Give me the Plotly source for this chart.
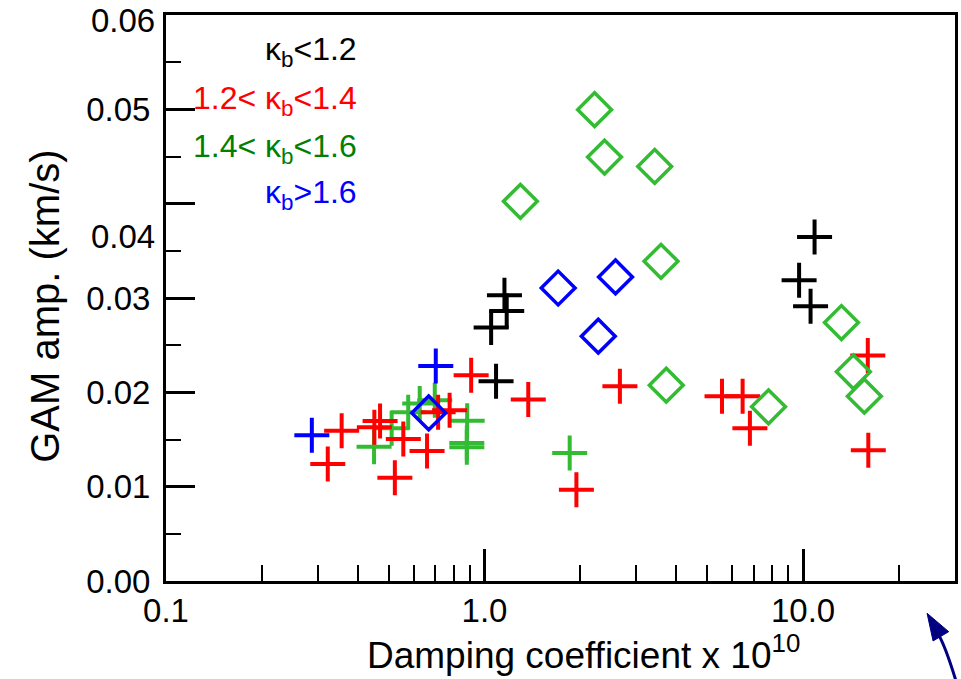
import numpy as np
import plotly.graph_objects as go

# Damping coefficient (x 1e10) and GAM amplitude (km/s), grouped by kappa_b
black_cross_x = [1.049, 1.155, 1.174, 1.087, 10.87, 9.72, 10.56]
black_cross_y = [0.02687, 0.03029, 0.02863, 0.02118, 0.03647, 0.03188, 0.02912]

red_cross_x = [0.322, 0.356, 0.470, 0.451, 0.523, 0.556, 0.660, 0.777, 0.715,
               0.908, 1.372, 1.943, 2.661, 5.567, 6.461, 6.811, 15.97, 16.03]
red_cross_y = [0.01239, 0.01592, 0.01695, 0.01631, 0.01094, 0.01504, 0.01377, 0.01811, 0.01790,
               0.02182, 0.01924, 0.00967, 0.02065, 0.01959, 0.01959, 0.01620, 0.02390, 0.01387]

green_cross_x = [0.450, 0.511, 0.576, 0.626, 0.698, 0.882, 0.880, 0.880, 1.851]
green_cross_y = [0.01422, 0.01620, 0.01790, 0.01882, 0.01917, 0.01698, 0.01462, 0.01419, 0.01356]

green_diamond_x = [2.216, 2.381, 3.422, 1.296, 3.582, 3.721, 7.792, 13.2, 14.39, 15.58]
green_diamond_y = [0.04996, 0.04494, 0.04395, 0.04025, 0.03389, 0.02076, 0.01846, 0.02740, 0.02217, 0.01959]

blue_cross_x = [0.287, 0.703]
blue_cross_y = [0.01546, 0.02280]

blue_diamond_x = [0.668, 1.703, 2.578, 2.276]
blue_diamond_y = [0.01782, 0.03106, 0.03223, 0.02595]

x_major = [0.1, 1, 10]
x_major_text = ["0.1", "1.0", "10.0"]
x_minor = [0.2, 0.3, 0.4, 0.5, 0.6, 0.7, 0.8, 0.9, 2, 3, 4, 5, 6, 7, 8, 9, 20]
y_major = [0.0, 0.01, 0.02, 0.03, 0.04, 0.05, 0.06]
y_major_text = ["0.00", "0.01", "0.02", "0.03", "", "0.05", ""]
y_minor = [0.005, 0.015, 0.025, 0.035, 0.045, 0.055]

legend_labels = ["κ<sub>b</sub>&lt;1.2", "1.2&lt; κ<sub>b</sub>&lt;1.4",
                 "1.4&lt; κ<sub>b</sub>&lt;1.6", "κ<sub>b</sub>&gt;1.6"]

BLACK = "#000000"
RED = "#ff0000"
GREEN = "#33bb33"
GREEN_TEXT = "#008000"
BLUE = "#0000ff"
NAVY = "#000080"
FONT = "Liberation Sans, Arial, sans-serif"
TICK_SIZE = 33

fig = go.Figure()


def add_points(xs, ys, color, symbol, size, width):
    fig.add_trace(go.Scatter(
        x=xs, y=ys, mode="markers", showlegend=False, hoverinfo="x+y",
        marker=dict(symbol=symbol, size=size, color=color,
                    line=dict(color=color, width=width)),
    ))


add_points(green_cross_x, green_cross_y, GREEN, "cross-thin-open", 25, 4)
add_points(red_cross_x, red_cross_y, RED, "cross-thin-open", 25, 4)
add_points(black_cross_x, black_cross_y, BLACK, "cross-thin-open", 25, 4)
add_points(blue_cross_x, blue_cross_y, BLUE, "cross-thin-open", 25, 4)
add_points(green_diamond_x, green_diamond_y, GREEN, "diamond-open", 26, 3.5)
add_points(blue_diamond_x, blue_diamond_y, BLUE, "diamond-open", 26, 3.5)

fig.update_layout(
    width=961, height=679,
    margin=dict(l=166, r=3, t=15, b=98),
    paper_bgcolor="white", plot_bgcolor="white",
    font=dict(family=FONT, color="black", size=30),
)

fig.update_xaxes(
    type="log", range=[np.log10(0.1), np.log10(30)],
    showline=True, linewidth=3, linecolor="black", mirror=True,
    showgrid=False, zeroline=False,
    ticks="inside", ticklen=32, tickwidth=2.5, tickcolor="black",
    tickvals=x_major, ticktext=x_major_text, ticklabelstandoff=-2,
    tickfont=dict(size=TICK_SIZE),
    minor=dict(ticks="inside", ticklen=16, tickwidth=2, tickcolor="black",
               tickvals=x_minor, showgrid=False),
)
fig.update_yaxes(
    range=[0, 0.06],
    showline=True, linewidth=3, linecolor="black", mirror=True,
    showgrid=False, zeroline=False,
    ticks="inside", ticklen=29, tickwidth=2.5, tickcolor="black",
    tickvals=y_major, ticktext=y_major_text, ticklabelstandoff=6,
    tickfont=dict(size=TICK_SIZE),
    minor=dict(ticks="inside", ticklen=15, tickwidth=2, tickcolor="black",
               tickvals=y_minor, showgrid=False),
)

annotations = [
    # 0.04 label sits below its tick on this axis
    dict(text="0.04", x=0, xref="paper", y=0.0365, yref="y",
         xanchor="right", yanchor="middle", xshift=-9, showarrow=False,
         font=dict(size=TICK_SIZE)),
    dict(text="0.06", x=0, xref="paper", y=0.06, yref="y",
         xanchor="right", yanchor="middle", xshift=-9, yshift=-5, showarrow=False,
         font=dict(size=TICK_SIZE)),
    dict(text="Damping coefficient x 10<sup>10</sup>", x=0.529, xref="paper",
         y=-0.127, yref="paper", xanchor="center", yanchor="middle",
         showarrow=False, font=dict(size=37)),
    dict(text="GAM amp. (km/s)", x=-0.153, xref="paper", y=0.485, yref="paper",
         textangle=-90, xanchor="center", yanchor="middle",
         showarrow=False, font=dict(size=40)),
]
legend_colors = [BLACK, RED, GREEN_TEXT, BLUE]
legend_y = [0.935, 0.849, 0.765, 0.682]
for label, color, ly in zip(legend_labels, legend_colors, legend_y):
    annotations.append(dict(text=label, x=0.245, xref="paper", y=ly, yref="paper",
                            xanchor="right", yanchor="middle", showarrow=False,
                            font=dict(size=32, color=color)))
fig.update_layout(annotations=annotations)

# Curved pointer in the lower right corner
fig.add_shape(type="path", xref="paper", yref="paper",
              path="M 1.0009 -0.175 Q 0.9874 -0.113 0.9773 -0.090",
              line=dict(color=NAVY, width=3))
fig.add_shape(type="path", xref="paper", yref="paper",
              path="M 0.9646 -0.057 L 0.9722 -0.1059 L 0.9920 -0.0895 Z",
              fillcolor=NAVY, line=dict(color=NAVY, width=1))

fig.write_html("out.html")
